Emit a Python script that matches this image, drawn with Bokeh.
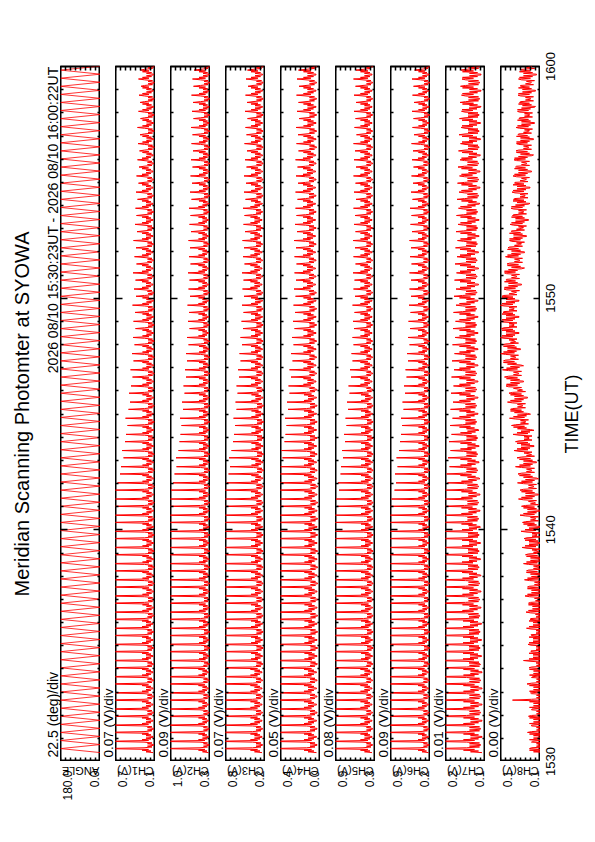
import math
from bokeh.plotting import figure
from bokeh.models import Range1d, LinearAxis, FixedTicker, Label, ColumnDataSource
from bokeh.layouts import row, column
from bokeh.embed import file_html
from bokeh.resources import INLINE

FONT = "Liberation Sans"
RED = "#ff0000"

TITLE = "Meridian Scanning Photomter at SYOWA"
PERIOD = "2026 08/10 15:30:23UT - 2026 08/10 16:00:22UT"
TIME_TITLE = "TIME(UT)"

# time axis (minutes after 15:00)
TIME_TICKS = [30, 40, 50, 60]
TIME_LABELS = ["1530", "1540", "1550", "1600"]
SCAN_START_MIN = 30 + 23 / 60.0   # 15:30:23
SCAN_END_MIN = 60 + 22 / 60.0     # 16:00:22

PANELS = ["ANGLE", "CH1(V)", "CH2(V)", "CH3(V)", "CH4(V)", "CH5(V)", "CH6(V)", "CH7(V)", "CH8(V)"]
AXIS_MIN = [0.0, 0.12, 0.28, 0.22, 0.02, 0.28, 0.21, 0.12, 0.100]
PER_DIV = [22.5, 0.07, 0.09, 0.07, 0.05, 0.08, 0.09, 0.01, 0.004]
DIV_LABELS = ["22.5 (deg)/div", "0.07 (V)/div", "0.09 (V)/div", "0.07 (V)/div", "0.05 (V)/div",
              "0.08 (V)/div", "0.09 (V)/div", "0.01 (V)/div", "0.00 (V)/div"]
MAX_LABELS = ["180.0", "0.7", "1.0", "0.8", "0.4", "0.9", "0.9", "0.2", "0.1"]
MIN_LABELS = ["0.0", "0.1", "0.3", "0.2", "0.0", "0.3", "0.2", "0.1", "0.1"]

# scan mirror angle at each turning point (deg): two half-sweeps per scan cycle
ANGLE_TURNS = [0.0, 180.0] * 86 + [0.0]

# per-cycle peak of each channel, in divisions above the axis minimum
CH1_PEAK = [10.5, 9.8, 11.2, 10.1, 9.6, 10.8, 11.5, 9.9, 10.3, 10.9,
            9.7, 10.6, 11.0, 10.2, 9.5, 10.4, 11.3, 9.8, 10.0, 10.7,
            9.9, 10.5, 9.4, 10.1, 9.7, 10.3, 9.3, 9.8, 9.1, 9.6,
            8.9, 8.6, 8.2, 7.6, 7.1, 6.9, 6.4, 6.7, 6.1, 5.9,
            5.6, 6.0, 5.4, 5.1, 5.3, 4.9, 4.6, 5.0, 4.4, 4.7,
            4.2, 4.5, 4.0, 4.4, 4.1, 4.6, 3.9, 4.3, 4.0, 4.5,
            3.8, 4.2, 3.9, 4.4, 3.7, 4.1, 3.8, 4.0, 3.6, 3.9,
            3.4, 3.8, 3.3, 3.6, 3.2, 3.5, 3.1, 3.6, 3.0, 3.4,
            3.1, 3.3, 2.9, 3.4, 3.0, 3.2]
CH2_PEAK = [10.2, 11.0, 9.7, 10.6, 11.4, 9.9, 10.3, 10.8, 9.6, 11.1,
            10.4, 9.8, 10.9, 11.3, 10.0, 9.7, 10.6, 10.2, 11.0, 9.9,
            10.3, 9.6, 10.1, 9.8, 10.4, 9.5, 9.9, 9.3, 9.7, 9.2,
            8.8, 8.4, 7.9, 7.5, 7.2, 6.8, 6.9, 6.4, 6.2, 6.0,
            5.8, 6.1, 5.5, 5.7, 5.2, 5.4, 4.9, 5.1, 4.7, 4.9,
            4.4, 4.7, 4.2, 4.5, 4.3, 4.6, 4.1, 4.4, 4.2, 4.5,
            4.0, 4.3, 4.1, 4.4, 3.9, 4.2, 4.0, 4.3, 3.8, 4.1,
            3.7, 4.0, 3.6, 3.9, 3.5, 3.8, 3.6, 3.9, 3.4, 3.7,
            3.5, 3.8, 3.4, 3.6, 3.3, 3.7]
CH3_PEAK = [10.8, 10.1, 11.3, 9.8, 10.5, 11.0, 10.2, 9.7, 10.9, 10.4,
            11.2, 10.0, 9.6, 10.7, 10.3, 11.1, 9.9, 10.5, 10.1, 10.8,
            9.8, 10.4, 9.6, 10.0, 9.4, 9.9, 9.5, 9.7, 9.2, 9.4,
            9.0, 8.7, 8.3, 7.8, 7.4, 7.1, 7.3, 6.8, 6.5, 6.3,
            6.1, 6.4, 5.8, 6.0, 5.6, 5.8, 5.3, 5.5, 5.0, 5.2,
            4.7, 5.0, 4.5, 4.8, 4.4, 4.7, 4.3, 4.6, 4.4, 4.7,
            4.2, 4.5, 4.3, 4.6, 4.1, 4.4, 4.2, 4.5, 4.0, 4.3,
            3.9, 4.3, 3.8, 4.1, 3.7, 4.2, 3.8, 4.0, 3.6, 4.1,
            3.7, 4.0, 3.5, 3.9, 3.6, 3.8]
CH4_PEAK = [10.3, 11.1, 10.6, 9.9, 11.4, 10.2, 10.8, 9.7, 11.0, 10.5,
            9.8, 10.9, 11.3, 10.1, 10.6, 9.9, 11.2, 10.4, 10.0, 10.7,
            10.2, 9.9, 10.6, 9.7, 10.3, 9.8, 10.1, 9.6, 9.9, 9.5,
            9.6, 9.2, 9.4, 8.9, 8.6, 8.0, 7.6, 7.8, 7.2, 7.0,
            6.8, 7.1, 6.5, 6.7, 6.2, 6.4, 5.9, 6.2, 5.6, 5.9,
            5.4, 5.7, 5.2, 5.5, 5.1, 5.4, 5.0, 5.3, 4.9, 5.2,
            4.8, 5.2, 4.9, 5.3, 4.7, 5.1, 4.8, 5.0, 4.6, 5.0,
            4.5, 4.9, 4.6, 5.0, 4.4, 4.8, 4.5, 4.9, 4.3, 4.7,
            4.4, 4.8, 4.3, 4.7, 4.4, 4.6]
CH5_PEAK = [10.6, 9.9, 11.2, 10.4, 10.0, 11.0, 9.8, 10.7, 11.3, 10.1,
            10.5, 9.7, 10.9, 10.2, 11.1, 9.9, 10.4, 10.8, 9.6, 10.3,
            9.9, 10.2, 9.5, 9.8, 9.3, 9.6, 9.0, 9.2, 8.6, 8.1,
            7.7, 7.9, 7.3, 7.5, 7.0, 6.9, 6.5, 6.7, 6.1, 6.3,
            5.8, 6.0, 5.5, 5.7, 5.2, 5.4, 4.9, 5.1, 4.6, 4.8,
            4.4, 4.6, 4.3, 4.5, 4.2, 4.6, 4.1, 4.4, 4.2, 4.5,
            4.0, 4.4, 4.1, 4.5, 4.0, 4.3, 4.1, 4.4, 3.9, 4.3,
            4.0, 4.4, 3.9, 4.3, 4.1, 4.4, 3.8, 4.2, 4.0, 4.3,
            3.9, 4.3, 4.0, 4.4, 3.9, 4.2]
CH6_PEAK = [10.1, 10.9, 9.8, 11.3, 10.5, 9.7, 10.8, 11.1, 10.0, 10.6,
            11.0, 10.3, 9.9, 10.7, 11.2, 10.1, 9.6, 10.5, 10.9, 10.2,
            10.0, 9.7, 10.3, 9.5, 9.9, 9.4, 9.7, 9.1, 9.3, 8.8,
            8.3, 7.8, 7.2, 6.9, 7.1, 6.6, 6.8, 6.3, 6.1, 5.9,
            5.7, 5.9, 5.4, 5.6, 5.1, 5.3, 4.8, 5.0, 4.5, 4.7,
            4.2, 4.5, 4.1, 4.4, 4.0, 4.3, 3.9, 4.2, 3.9, 4.2,
            3.8, 4.1, 3.9, 4.2, 3.7, 4.0, 3.8, 4.1, 3.6, 3.9,
            3.5, 3.8, 3.4, 3.7, 3.5, 3.8, 3.3, 3.6, 3.4, 3.7,
            3.3, 3.6, 3.4, 3.7, 3.2, 3.5]
CH7_PEAK = [10.4, 11.0, 9.9, 10.7, 11.3, 10.1, 9.8, 10.9, 10.3, 11.1,
            9.7, 10.6, 11.2, 10.0, 10.5, 9.9, 10.8, 10.2, 11.0, 9.8,
            10.3, 9.7, 10.1, 9.6, 9.9, 9.4, 9.8, 9.2, 9.5, 9.0,
            8.8, 8.5, 8.0, 7.6, 7.8, 7.2, 7.5, 7.0, 7.3, 6.8,
            7.1, 6.6, 7.0, 6.5, 6.9, 6.4, 6.8, 6.3, 6.7, 6.2,
            6.6, 6.1, 6.5, 6.0, 6.4, 5.9, 6.3, 5.9, 6.2, 5.8,
            6.1, 5.7, 6.0, 5.6, 5.9, 5.5, 5.8, 5.4, 5.7, 5.3,
            5.6, 5.2, 5.5, 5.1, 5.4, 5.0, 5.3, 4.9, 5.2, 4.8,
            5.1, 4.8, 5.0, 4.7, 4.9, 4.6]
CH8_PEAK = [2.2, 1.6, 2.6, 1.8, 2.4, 1.7, 5.6, 2.0, 2.7, 1.6,
            2.3, 3.4, 1.9, 2.5, 1.8, 2.8, 2.1, 2.9, 2.4, 3.1,
            2.6, 3.2, 2.8, 3.4, 3.0, 3.7, 3.3, 3.9, 3.6, 4.1,
            3.8, 4.4, 4.1, 4.6, 4.5, 5.0, 4.7, 5.3, 5.0, 5.5,
            5.8, 6.2, 6.0, 6.6, 6.3, 6.9, 7.2, 7.6, 7.4, 8.0,
            7.6, 8.3, 7.8, 8.1, 7.5, 8.2, 7.7, 7.3, 6.9, 7.2,
            6.7, 7.0, 6.5, 6.2, 5.8, 6.1, 5.6, 5.9, 5.4, 5.7,
            5.2, 5.5, 5.0, 5.3, 4.9, 4.8, 4.5, 4.9, 4.3, 4.6,
            4.2, 4.5, 4.0, 4.4, 3.9, 4.2]

# profile along one scan cycle (divisions above the running level); None = the peak sample
CH1_SHAPE = [0.4, 1.8, 0.8, 2.6, 1.3, None, 2.2, 0.6, 1.5, 0.3]
CH2_SHAPE = [0.3, 1.5, 0.6, 2.3, 1.0, None, 2.0, 0.5, 1.3, 0.2]
CH3_SHAPE = [0.5, 2.0, 0.9, 2.8, 1.4, None, 2.4, 0.7, 1.7, 0.4]
CH4_SHAPE = [0.5, 2.2, 1.0, 3.0, 1.5, None, 2.5, 0.8, 1.8, 0.4]
CH5_SHAPE = [0.5, 2.0, 0.9, 2.8, 1.3, None, 2.3, 0.7, 1.6, 0.4]
CH6_SHAPE = [0.3, 1.6, 0.7, 2.4, 1.1, None, 2.0, 0.5, 1.3, 0.2]
CH7_SHAPE = [0.5, 2.8, 1.2, 4.2, 2.0, None, 3.6, 1.0, 3.0, 0.8]
CH8_SHAPE = [0.0, 2.6, 0.8, 3.4, 1.2, None, 3.0, 0.4, 2.0, 1.0]

# running level (divisions), equal time blocks spanning 15:30-16:00
CH1_LEVEL = [0.1, 0.1, 0.1, 0.0, 0.0, 0.0, 0.0, 0.0, 0.0, 0.0, 0.1, 0.1, 0.1, 0.0, 0.0]
CH2_LEVEL = [0.1, 0.1, 0.0, 0.0, 0.0, 0.0, 0.0, 0.0, 0.0, 0.1, 0.1, 0.1, 0.0, 0.0, 0.0]
CH3_LEVEL = [0.2, 0.2, 0.1, 0.1, 0.1, 0.1, 0.0, 0.0, 0.1, 0.1, 0.2, 0.2, 0.1, 0.1, 0.1]
CH4_LEVEL = [0.3, 0.3, 0.2, 0.2, 0.2, 0.2, 0.3, 0.3, 0.4, 0.4, 0.5, 0.5, 0.5, 0.4, 0.4]
CH5_LEVEL = [0.2, 0.2, 0.1, 0.1, 0.1, 0.1, 0.1, 0.1, 0.2, 0.2, 0.2, 0.2, 0.2, 0.2, 0.2]
CH6_LEVEL = [0.1, 0.1, 0.0, 0.0, 0.0, 0.0, 0.0, 0.0, 0.0, 0.1, 0.1, 0.1, 0.1, 0.0, 0.0]
CH7_LEVEL = [0.2, 0.2, 0.3, 0.4, 0.5, 0.6, 0.8, 1.0, 1.0, 1.0, 0.9, 0.8, 0.6, 0.5, 0.4]
CH8_LEVEL = [-1.2, -1.2, -1.2, -1.2, -1.1, -1.1, -1.0, -0.8, -0.6, -0.3,
             0.0, 0.4, 0.8, 1.3, 2.0, 2.6, 3.4, 4.0, 4.3, 4.3,
             3.8, 3.2, 2.8, 2.4, 2.1, 1.8, 1.4, 1.2, 1.0, 0.8]

CHANNELS = [
    (CH1_PEAK, CH1_SHAPE, CH1_LEVEL), (CH2_PEAK, CH2_SHAPE, CH2_LEVEL),
    (CH3_PEAK, CH3_SHAPE, CH3_LEVEL), (CH4_PEAK, CH4_SHAPE, CH4_LEVEL),
    (CH5_PEAK, CH5_SHAPE, CH5_LEVEL), (CH6_PEAK, CH6_SHAPE, CH6_LEVEL),
    (CH7_PEAK, CH7_SHAPE, CH7_LEVEL), (CH8_PEAK, CH8_SHAPE, CH8_LEVEL),
]

N_CYCLE = len(CH1_PEAK)
CYCLE = (SCAN_END_MIN - SCAN_START_MIN) / N_CYCLE


def channel_source(peaks, shape, level, vmin, div):
    ts, vs = [], []
    ns = len(shape)
    for s in range(N_CYCLE):
        t_start = SCAN_START_MIN + s * CYCLE
        blk = min(int((t_start - 30) * len(level) / 30.0), len(level) - 1)
        prof = shape if s % 2 == 0 else shape[::-1]
        for k in range(ns):
            d = peaks[s] if prof[k] is None else level[blk] + prof[k]
            ts.append(t_start + k * CYCLE / ns)
            vs.append(vmin + d * div)
    return ColumnDataSource(data=dict(t=ts, v=vs))


def angle_source():
    half = CYCLE * N_CYCLE / (len(ANGLE_TURNS) - 1)
    ts = [SCAN_START_MIN + i * half for i in range(len(ANGLE_TURNS))]
    return ColumnDataSource(data=dict(t=ts, v=ANGLE_TURNS))


TOP, FRAME_H, BOTTOM = 66, 695, 50
FRAME_W = 40
GAP = 15
LEFT_W = 60
RIGHT_W = 55
H_ALL = TOP + FRAME_H + BOTTOM

TIME_RANGE = Range1d(30, 60)
# same time scale, stretched over the whole page height (for the text strips)
MIN_PER_PX = 30.0 / FRAME_H
PAGE_TIME_RANGE = Range1d(30 - BOTTOM * MIN_PER_PX, 60 + TOP * MIN_PER_PX)

minor_minutes = [m for m in range(31, 60) if m not in (40, 50)]


def tick_axis(ticker, major_in, minor_in=0):
    return LinearAxis(ticker=ticker, axis_line_color=None,
                      major_tick_in=major_in, major_tick_out=0,
                      minor_tick_in=minor_in, minor_tick_out=0,
                      major_tick_line_width=1.5, minor_tick_line_width=1.5,
                      major_tick_line_color="black", minor_tick_line_color="black",
                      major_label_text_font_size="0px", major_label_standoff=0,
                      major_label_text_color=None)


def blank_fig(width, height, x_range, y_range):
    p = figure(width=width, height=height, x_range=x_range, y_range=y_range,
               x_axis_location=None, y_axis_location=None,
               toolbar_location=None, output_backend="svg",
               min_border_left=0, min_border_right=0,
               min_border_top=0, min_border_bottom=0,
               background_fill_color="white", border_fill_color="white",
               outline_line_color=None)
    p.xgrid.grid_line_color = None
    p.ygrid.grid_line_color = None
    return p


def text(p, x, y, s, size, angle, align, x_offset=0, y_offset=0):
    p.add_layout(Label(x=x, y=y, text=s, angle=angle, text_align=align,
                       text_baseline="middle", x_offset=x_offset, y_offset=y_offset,
                       text_font=FONT, text_font_size=size, text_color="black"))


UP = math.pi / 2

# left strip (x in px from the page's left edge): title, period, first scale text
left = blank_fig(LEFT_W, H_ALL, Range1d(0, LEFT_W), PAGE_TIME_RANGE)
text(left, 21, 45, TITLE, "20px", UP, "center")
text(left, 52.5, 60, PERIOD, "14px", UP, "right")
text(left, 52.5, 30, DIV_LABELS[0], "14px", UP, "left", y_offset=4)

children = [left]
for i, name in enumerate(PANELS):
    vmin = AXIS_MIN[i]
    div = PER_DIV[i]
    vmax = vmin + 8 * div
    xr = Range1d(vmax, vmin)

    if i > 0:
        gap = blank_fig(GAP, H_ALL, Range1d(0, GAP), PAGE_TIME_RANGE)
        text(gap, 7.5, 30, DIV_LABELS[i], "13.5px", UP, "left", y_offset=4)
        children.append(gap)

    p = figure(width=FRAME_W, height=TOP + FRAME_H,
               x_range=xr, y_range=TIME_RANGE,
               x_axis_location=None, y_axis_location=None,
               toolbar_location=None, output_backend="svg",
               min_border_left=0, min_border_right=0,
               min_border_top=TOP, min_border_bottom=0,
               background_fill_color="white", border_fill_color="white",
               outline_line_color="black", outline_line_width=2)
    p.xgrid.grid_line_color = None
    p.ygrid.grid_line_color = None

    vticks = [vmin + j * div for j in range(9)]
    p.add_layout(tick_axis(FixedTicker(ticks=vticks), 4), "below")
    p.add_layout(tick_axis(FixedTicker(ticks=vticks), 4), "above")
    p.add_layout(tick_axis(FixedTicker(ticks=[40, 50], minor_ticks=minor_minutes), 7, 3), "left")
    p.add_layout(tick_axis(FixedTicker(ticks=[40, 50], minor_ticks=minor_minutes), 7, 3), "right")

    if i == 0:
        p.line(x="v", y="t", source=angle_source(), line_color=RED, line_width=0.8)
    else:
        peaks, shape, level = CHANNELS[i - 1]
        p.line(x="v", y="t", source=channel_source(peaks, shape, level, vmin, div),
               line_color=RED, line_width=1)

    b = blank_fig(FRAME_W, BOTTOM, xr, Range1d(-BOTTOM, 0))
    text(b, vmax, -9, MAX_LABELS[i], "12px", UP, "right", x_offset=6.5)
    text(b, vmin, -9, MIN_LABELS[i], "12px", UP, "right", x_offset=-6.5)
    text(b, (vmin + vmax) / 2, -9.5, name, "11px", math.pi, "center")

    children.append(column(p, b))

# right strip: time labels at the time scale, and the axis title
rfig = blank_fig(RIGHT_W, H_ALL, Range1d(0, RIGHT_W), PAGE_TIME_RANGE)
for tv, tl in zip(TIME_TICKS, TIME_LABELS):
    text(rfig, 10, tv, tl, "13px", UP, "center")
text(rfig, 31.5, 45, TIME_TITLE, "18px", UP, "center")
children.append(rfig)

layout = row(*children)
open("out.html", "w").write(file_html(layout, INLINE))
